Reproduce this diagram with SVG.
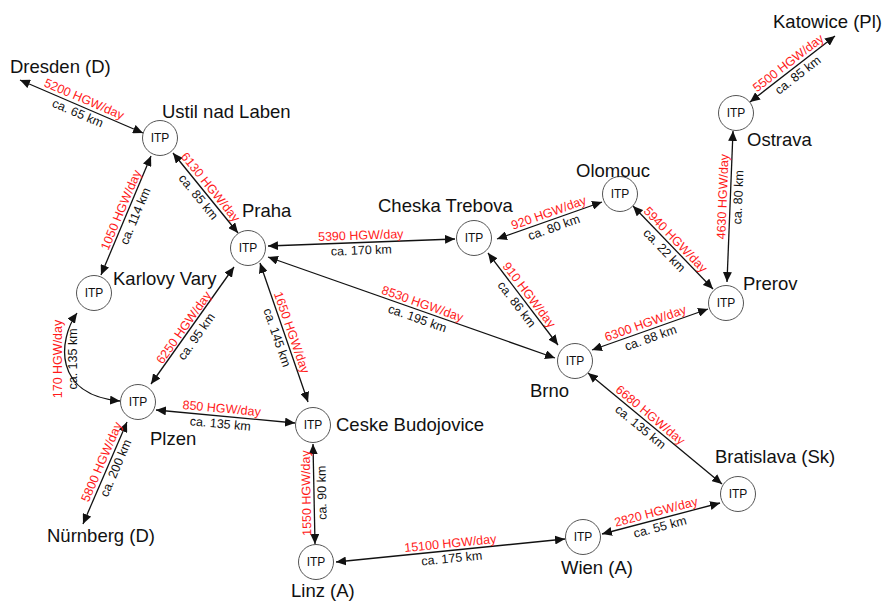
<svg xmlns="http://www.w3.org/2000/svg" width="885" height="603" viewBox="0 0 885 603">
<style>
.n{fill:#fff;stroke:#555;stroke-width:1}
.itp{font-family:"Liberation Sans",Arial,sans-serif;font-size:12px;fill:#111;text-anchor:middle}
.lbl{font-family:"Liberation Sans",Arial,sans-serif;font-size:18.5px;fill:#111}
.e{fill:none;stroke:#111;stroke-width:1.3;marker-start:url(#ah);marker-end:url(#ah)}
.r{font-family:"Liberation Sans",Arial,sans-serif;font-size:12.5px;fill:#ff1a1a;text-anchor:middle}
.b{font-family:"Liberation Sans",Arial,sans-serif;font-size:12.5px;fill:#111;text-anchor:middle}
</style>
<defs>
<marker id="ah" viewBox="0 0 10 9" refX="10" refY="4.5" markerWidth="10" markerHeight="9" markerUnits="userSpaceOnUse" orient="auto-start-reverse">
<path d="M0,0 L10,4.5 L0,9 z" fill="#111"/>
</marker>
</defs>
<rect width="885" height="603" fill="#fff"/>
<g id="connectors">
<path class="e" d="M20,80 L143,133"/>
<path class="e" d="M151,156 L101,275"/>
<path class="e" d="M173,153 L238,233"/>
<path class="e" d="M268,246 L455,239"/>
<path class="e" d="M268,257 L555,358"/>
<path class="e" d="M234,267 L151,384"/>
<path class="e" d="M260,263 L308,402"/>
<path class="e" d="M77,313 C58,340 53,395 120,401"/>
<path class="e" d="M156,410 L295,423"/>
<path class="e" d="M127,422 L83,524"/>
<path class="e" d="M313,444 L315,544"/>
<path class="e" d="M336,562 L565,539"/>
<path class="e" d="M602,534 L720,503"/>
<path class="e" d="M588,373 L722,484"/>
<path class="e" d="M592,350 L708,309"/>
<path class="e" d="M488,253 L558,345"/>
<path class="e" d="M497,239 L602,202"/>
<path class="e" d="M633,206 L713,289"/>
<path class="e" d="M733,131 L727,282"/>
<path class="e" d="M750,102 L835,36"/>
</g>
<g id="edge-labels">
<g transform="translate(81,106) rotate(23.3)"><text class="r" y="-3.5">5200 HGW/day</text><text class="b" y="12">ca. 65 km</text></g>
<g transform="translate(128,213) rotate(-67.2)"><text class="r" y="-3.5">1050 HGW/day</text><text class="b" y="12">ca. 114 km</text></g>
<g transform="translate(204.5,192) rotate(50.9)"><text class="r" y="-3.5">6130 HGW/day</text><text class="b" y="12">ca. 85 km</text></g>
<g transform="translate(361,242.5) rotate(-2.1)"><text class="r" y="-3">5390 HGW/day</text><text class="b" y="12">ca. 170 km</text></g>
<g transform="translate(420,311) rotate(19.4)"><text class="r" y="-3.5">8530 HGW/day</text><text class="b" y="12">ca. 195 km</text></g>
<g transform="translate(190,332) rotate(-54.6)"><text class="r" y="-3.5">6250 HGW/day</text><text class="b" y="12">ca. 95 km</text></g>
<g transform="translate(284.5,335) rotate(70.9)"><text class="r" y="-3.5">1650 HGW/day</text><text class="b" y="12">ca. 145 km</text></g>
<g transform="translate(65.5,359) rotate(-90)"><text class="r" y="-3.5">170 HGW/day</text><text class="b" y="11.5">ca. 135 km</text></g>
<g transform="translate(221,416) rotate(5.3)"><text class="r" y="-3.5">850 HGW/day</text><text class="b" y="12">ca. 135 km</text></g>
<g transform="translate(108.5,465) rotate(-66.7)"><text class="r" y="-3.5">5800 HGW/day</text><text class="b" y="12">ca. 200 km</text></g>
<g transform="translate(314,493) rotate(-91.1)"><text class="r" y="-3.5">1550 HGW/day</text><text class="b" y="12">ca. 90 km</text></g>
<g transform="translate(451,550.5) rotate(-5.7)"><text class="r" y="-3">15100 HGW/day</text><text class="b" y="12">ca. 175 km</text></g>
<g transform="translate(658,519.3) rotate(-14.7)"><text class="r" y="-3.5">2820 HGW/day</text><text class="b" y="12">ca. 55 km</text></g>
<g transform="translate(645.5,421) rotate(39.6)"><text class="r" y="-3.5">6680 HGW/day</text><text class="b" y="12">ca. 135 km</text></g>
<g transform="translate(648,330.5) rotate(-19.5)"><text class="r" y="-3.5">6300 HGW/day</text><text class="b" y="12">ca. 88 km</text></g>
<g transform="translate(523,299.5) rotate(52.7)"><text class="r" y="-3.5">910 HGW/day</text><text class="b" y="12">ca. 86 km</text></g>
<g transform="translate(551.3,220) rotate(-19.4)"><text class="r" y="-3.5">920 HGW/day</text><text class="b" y="12">ca. 80 km</text></g>
<g transform="translate(670,245) rotate(46.1)"><text class="r" y="-3.5">5940 HGW/day</text><text class="b" y="12">ca. 22 km</text></g>
<g transform="translate(730.4,197) rotate(-87.7)"><text class="r" y="-3.5">4630 HGW/day</text><text class="b" y="12">ca. 80 km</text></g>
<g transform="translate(793,69) rotate(-37.8)"><text class="r" y="-3.5">5500 HGW/day</text><text class="b" y="12">ca. 85 km</text></g>
</g>
<g id="dresden"><text class="lbl" x="10" y="73">Dresden (D)</text></g>
<g id="nuernberg"><text class="lbl" x="47" y="542">Nürnberg (D)</text></g>
<g id="katowice"><text class="lbl" x="773" y="28">Katowice (Pl)</text></g>
<g id="ustil"><circle class="n" cx="160" cy="138" r="17.5"/><text class="itp" x="160" y="142.3">ITP</text><text class="lbl" x="162" y="118">Ustil nad Laben</text></g>
<g id="praha"><circle class="n" cx="248" cy="248" r="17.5"/><text class="itp" x="248" y="252.3">ITP</text><text class="lbl" x="242" y="217">Praha</text></g>
<g id="cheska-trebova"><circle class="n" cx="474" cy="238" r="17.5"/><text class="itp" x="474" y="242.3">ITP</text><text class="lbl" x="378" y="212">Cheska Trebova</text></g>
<g id="olomouc"><circle class="n" cx="620" cy="194" r="17.5"/><text class="itp" x="620" y="198.3">ITP</text><text class="lbl" x="576" y="177">Olomouc</text></g>
<g id="prerov"><circle class="n" cx="726" cy="303" r="17.5"/><text class="itp" x="726" y="307.3">ITP</text><text class="lbl" x="743" y="290">Prerov</text></g>
<g id="ostrava"><circle class="n" cx="736" cy="113" r="17.5"/><text class="itp" x="736" y="117.3">ITP</text><text class="lbl" x="747" y="146">Ostrava</text></g>
<g id="karlovy-vary"><circle class="n" cx="94" cy="293" r="17.5"/><text class="itp" x="94" y="297.3">ITP</text><text class="lbl" x="113" y="285">Karlovy Vary</text></g>
<g id="plzen"><circle class="n" cx="138" cy="402" r="17.5"/><text class="itp" x="138" y="406.3">ITP</text><text class="lbl" x="150" y="445">Plzen</text></g>
<g id="ceske-budojovice"><circle class="n" cx="313" cy="425" r="17.5"/><text class="itp" x="313" y="429.3">ITP</text><text class="lbl" x="336" y="431">Ceske Budojovice</text></g>
<g id="linz"><circle class="n" cx="316" cy="562" r="17.5"/><text class="itp" x="316" y="566.3">ITP</text><text class="lbl" x="291" y="597">Linz (A)</text></g>
<g id="brno"><circle class="n" cx="575" cy="361" r="17.5"/><text class="itp" x="575" y="365.3">ITP</text><text class="lbl" x="530" y="397">Brno</text></g>
<g id="wien"><circle class="n" cx="583" cy="537" r="17.5"/><text class="itp" x="583" y="541.3">ITP</text><text class="lbl" x="561" y="574">Wien (A)</text></g>
<g id="bratislava"><circle class="n" cx="738" cy="494" r="17.5"/><text class="itp" x="738" y="498.3">ITP</text><text class="lbl" x="715" y="463">Bratislava (Sk)</text></g>
</svg>
